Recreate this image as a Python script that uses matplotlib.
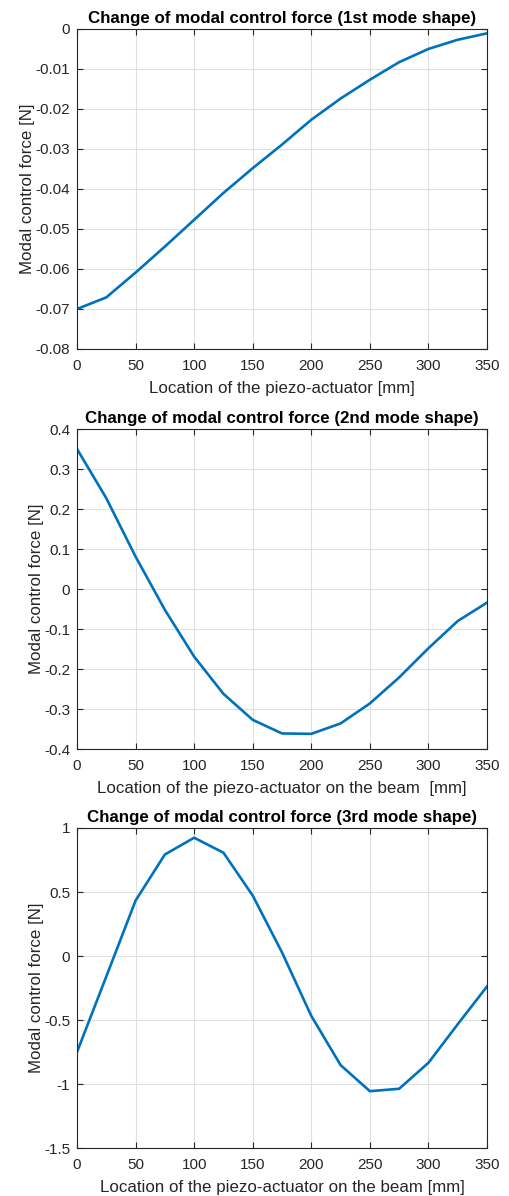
import numpy as np
import matplotlib
matplotlib.use("Agg")
import matplotlib.pyplot as plt

# piezo-actuator positions along the beam [mm]
location = [0, 25, 50, 75, 100, 125, 150, 175, 200, 225, 250, 275, 300, 325, 350]

# modal control force [N] for the first three mode shapes
force_mode1 = [-0.0700, -0.0671, -0.0609, -0.0544, -0.0477, -0.0410, -0.0348, -0.0289,
               -0.0227, -0.0174, -0.0127, -0.0083, -0.0050, -0.0027, -0.0011]
force_mode2 = [0.350, 0.227, 0.081, -0.052, -0.169, -0.262, -0.327, -0.361,
               -0.362, -0.336, -0.286, -0.221, -0.148, -0.080, -0.034]
force_mode3 = [-0.750, -0.160, 0.433, 0.793, 0.924, 0.807, 0.472, 0.028,
               -0.468, -0.852, -1.056, -1.037, -0.834, -0.533, -0.238]

titles = ['Change of modal control force (1st mode shape)',
          'Change of modal control force (2nd mode shape)',
          'Change of modal control force (3rd mode shape)']
xlabels = ['Location of the piezo-actuator [mm]',
           'Location of the piezo-actuator on the beam  [mm]',
           'Location of the piezo-actuator on the beam [mm]']
ylims = [(-0.08, 0), (-0.4, 0.4), (-1.5, 1)]
yticks = [np.arange(-0.08, 0.001, 0.01), np.arange(-0.4, 0.401, 0.1), np.arange(-1.5, 1.01, 0.5)]
ytick_labels = [['-0.08', '-0.07', '-0.06', '-0.05', '-0.04', '-0.03', '-0.02', '-0.01', '0'],
                ['-0.4', '-0.3', '-0.2', '-0.1', '0', '0.1', '0.2', '0.3', '0.4'],
                ['-1.5', '-1', '-0.5', '0', '0.5', '1']]

plt.rcParams['font.family'] = ['Liberation Sans', 'DejaVu Sans']
text_col = '#262626'

fig = plt.figure(figsize=(5.09, 11.96), dpi=100)
bottoms = [0.7082, 0.3737, 0.0401]
series = [force_mode1, force_mode2, force_mode3]

for i in range(3):
    ax = fig.add_axes([0.1513, bottoms[i], 0.8055, 0.2676])
    ax.plot(location, series[i], color='#0072BD', linewidth=1.9)
    ax.set_xlim(0, 350)
    ax.set_ylim(*ylims[i])
    ax.set_xticks(range(0, 351, 50))
    ax.set_yticks(yticks[i])
    ax.set_yticklabels(ytick_labels[i])
    ax.grid(True, color='#e0e0e0', linewidth=0.8)
    ax.set_axisbelow(True)
    ax.tick_params(direction='in', top=True, right=True, labelsize=11,
                   colors=text_col, length=4, width=0.8)
    ax.tick_params(axis='x', pad=7)
    ax.tick_params(axis='y', pad=5)
    for s in ax.spines.values():
        s.set_color(text_col)
        s.set_linewidth(0.8)
    ax.set_title(titles[i], fontsize=12.2, fontweight='bold', color='black', pad=4)
    ax.set_xlabel(xlabels[i], fontsize=12.2, color=text_col, labelpad=6)
    ax.set_ylabel('Modal control force [N]', fontsize=12.2, color=text_col, labelpad=0)

fig.savefig('out.png', dpi=100)
